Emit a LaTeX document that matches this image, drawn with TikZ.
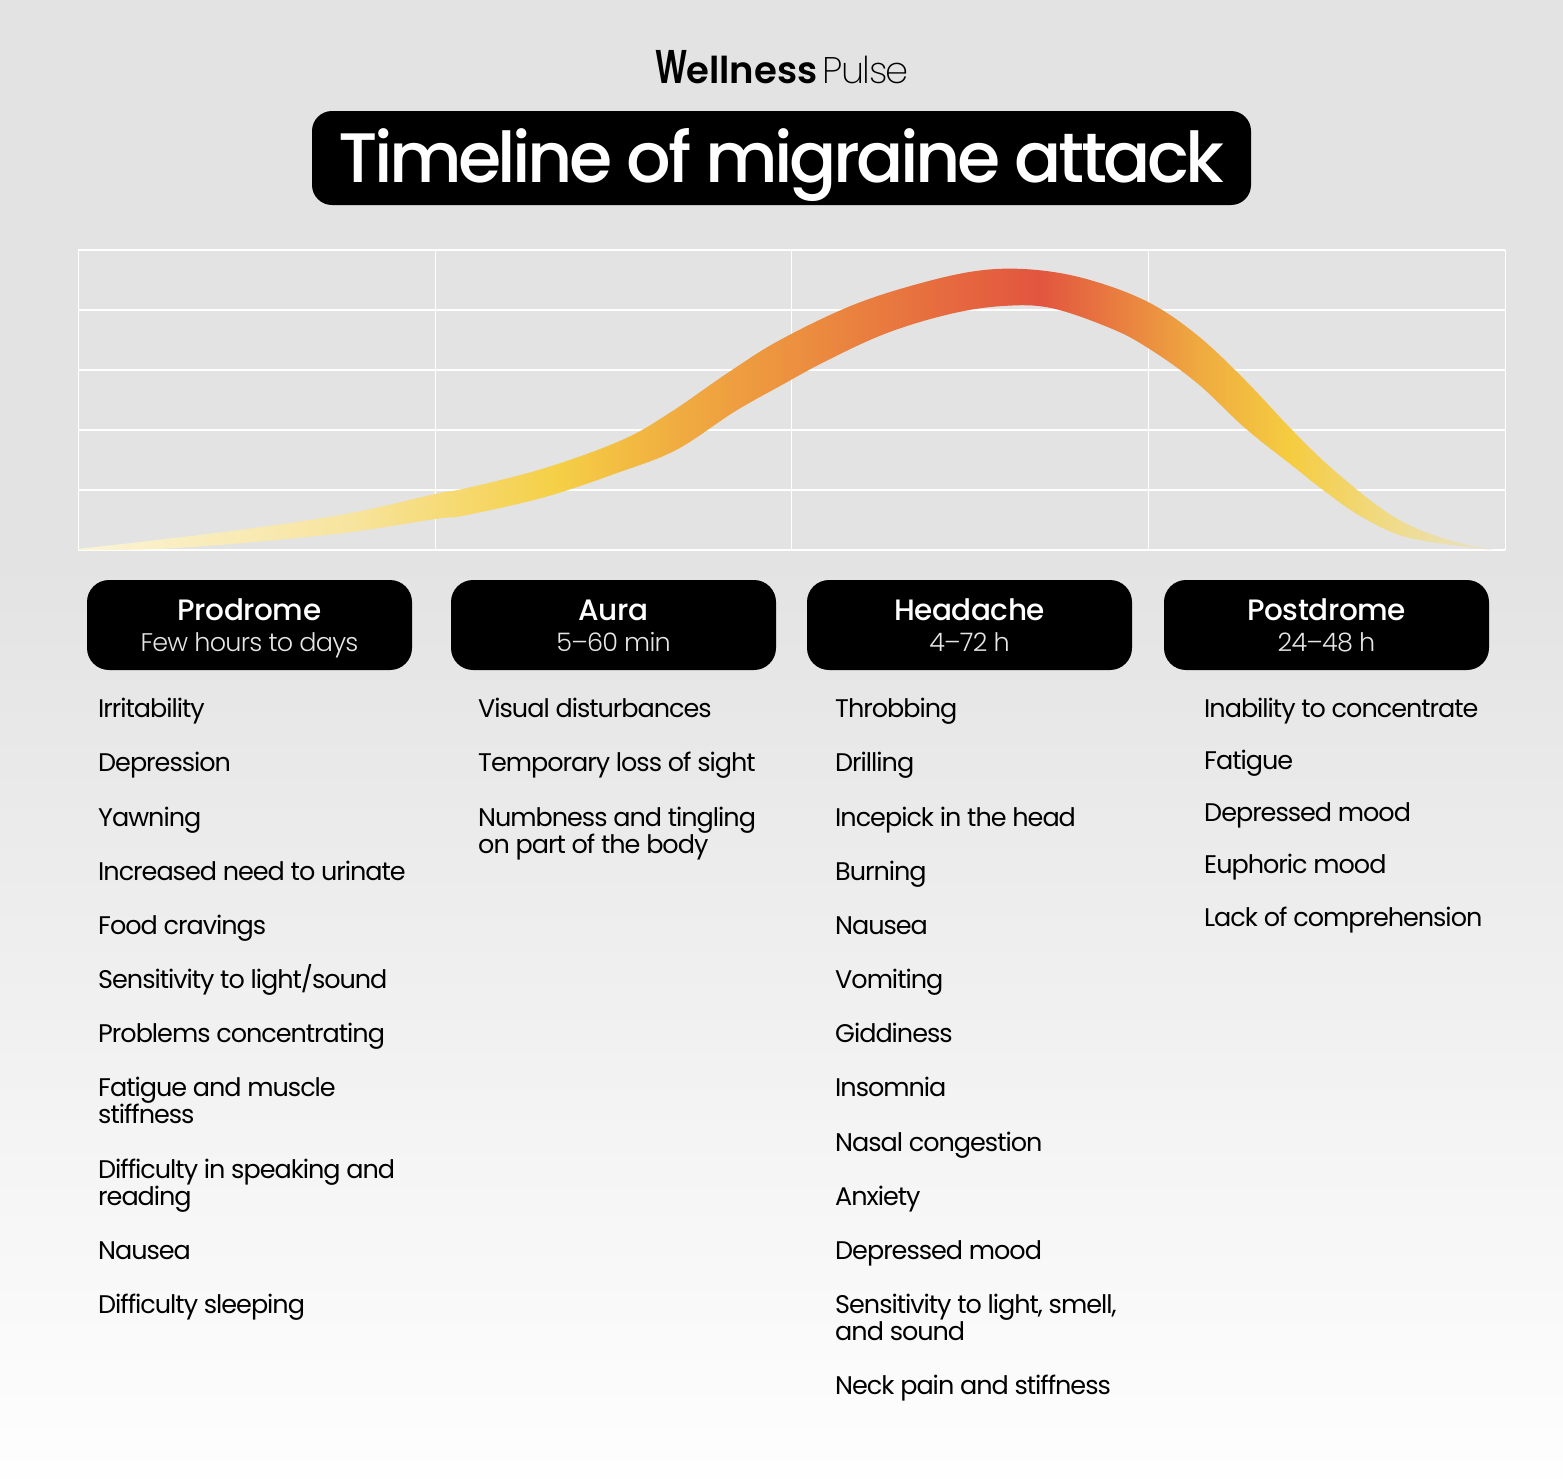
\documentclass[tikz,border=0pt]{standalone}
\usepackage{fontspec}
\usepackage{graphicx}
\setmainfont[LetterSpace=-4]{Poppins}
\newfontfamily\medf[LetterSpace=-1.5]{Poppins Medium}
\newfontfamily\titlef[LetterSpace=-5.2]{Poppins Medium}
\newfontfamily\lightf[LetterSpace=-3]{Poppins Light}
\newfontfamily\logolight[LetterSpace=-4]{Poppins ExtraLight}
\newfontfamily\semif{Poppins SemiBold}
\definecolor{bgtop}{HTML}{E3E3E3}
\definecolor{bgbot}{HTML}{FEFEFE}
\definecolor{rib0}{HTML}{FBF4D6}\definecolor{rib1}{HTML}{F7E49E}\definecolor{rib2}{HTML}{F5CF45}
\definecolor{rib3}{HTML}{F0AB40}\definecolor{rib4}{HTML}{EB8A3F}\definecolor{rib5}{HTML}{E6693F}
\definecolor{rib6}{HTML}{E2553F}\definecolor{rib7}{HTML}{E87A40}\definecolor{rib8}{HTML}{EFAA40}
\definecolor{rib9}{HTML}{F5CC40}\definecolor{rib10}{HTML}{EFDC8F}\definecolor{rib11}{HTML}{E8E2CC}
\pgfdeclarehorizontalshading{ribbonshade}{100bp}{
 color(0bp)=(rib0); color(25bp)=(rib0); color(34.6bp)=(rib1); color(42bp)=(rib2); color(46.3bp)=(rib3);
 color(51.2bp)=(rib4); color(55.8bp)=(rib5); color(59bp)=(rib6); color(61.5bp)=(rib7); color(64.6bp)=(rib8);
 color(67.8bp)=(rib9); color(71.7bp)=(rib10); color(75bp)=(rib11); color(100bp)=(rib11)}
\tikzset{
 pill/.style={fill=black,text=white,rounded corners=22pt,minimum width=325pt,minimum height=90pt,inner sep=0pt,align=center,anchor=center,font=\fontsize{29.5}{31}\selectfont},
 item/.style={anchor=base west,inner sep=0pt,text=black,font=\fontsize{25.5}{27}\selectfont,align=left},
 gridh/.style={draw=white,line width=1.1pt},
 gridv/.style={draw=white,line width=0.9pt}
}
\newcommand{\phase}[2]{\rule{0pt}{28pt}{\medf #1}\\{\fontsize{25.5}{31}\selectfont\lightf\color[HTML]{E6E6E6}\rule[-7pt]{0pt}{7pt}#2}}
\begin{document}
\begin{tikzpicture}[x=1pt,y=-1pt]
\useasboundingbox (0,0) rectangle (1563,1478);
\fill[bgtop] (0,0) rectangle (1563,560);
\shade[top color=bgtop,bottom color=bgbot] (0,559) rectangle (1563,1478);
% logo
\node[inner sep=0pt,anchor=base west] (logo) at (655,83) {\fontsize{37}{40}\selectfont\semif\scalebox{0.85}[1.28]{W}\hspace{-1pt}ellness\hspace{5pt}\logolight Pulse};
% title
\node[fill=black,text=white,rounded corners=20pt,minimum width=939pt,inner sep=0pt,text height=71pt,text depth=23pt] (title) at (781.5,158) {\fontsize{70}{76}\selectfont\titlef Timeline of migraine attack};
% grid
\foreach \y in {250,310,370,430,490,550} \draw[gridh] (78,\y) -- (1505,\y);
\foreach \x in {78,435,791,1148,1505} \draw[gridv] (\x,250) -- (\x,550);
% ribbon
\shade[shading=ribbonshade]
 plot[smooth,tension=0.6] coordinates {(78,549)(157,540)(254,528)(351,513)(435,494)(467,488)(545,468)(622,440)(671,412)(729,372)(780,340)(853,305)(925,282)(984,270)(1037,270)(1090,280)(1148,302)(1197,335)(1245,380)(1294,432)(1337,473)(1391,515)(1439,537)(1493,550)}
 -- plot[smooth,tension=0.6] coordinates {(1493,550)(1410,538)(1362,517)(1323,490)(1294,467)(1245,428)(1197,383)(1148,348)(1110,328)(1051,308)(1003,306)(950,314)(887,333)(828,360)(780,386)(734,412)(676,450)(617,473)(545,497)(467,515)(435,519)(351,532)(254,542)(157,549)(78,550)} -- cycle;
% headers
\node[pill] (p1) at (249.5,625) {\phase{Prodrome}{Few hours to days}};
\node[pill] (p2) at (613.5,625) {\phase{Aura}{5–60 min}};
\node[pill] (p3) at (969.5,625) {\phase{Headache}{4–72 h}};
\node[pill] (p4) at (1326.5,625) {\phase{Postdrome}{24–48 h}};
% Prodrome
\node[item] (a1) at (98,717) {Irritability};
\node[item] (a2) at (98,771) {Depression};
\node[item] (a3) at (98,826) {Yawning};
\node[item] (a4) at (98,880) {Increased need to urinate};
\node[item] (a5) at (98,934) {Food cravings};
\node[item] (a6) at (98,988) {Sensitivity to light/sound};
\node[item] (a7) at (98,1042) {Problems concentrating};
\node[item] (a8) at (98,1123) {Fatigue and muscle\\stiffness};
\node[item] (a9) at (98,1205) {Difficulty in speaking and\\reading};
\node[item] (a10) at (98,1259) {Nausea};
\node[item] (a11) at (98,1313) {Difficulty sleeping};
% Aura
\node[item] (b1) at (478,717) {Visual disturbances};
\node[item] (b2) at (478,771) {Temporary loss of sight};
\node[item] (b3) at (478,853) {Numbness and tingling\\on part of the body};
% Headache
\node[item] (c1) at (835,717) {Throbbing};
\node[item] (c2) at (835,771) {Drilling};
\node[item] (c3) at (835,826) {Incepick in the head};
\node[item] (c4) at (835,880) {Burning};
\node[item] (c5) at (835,934) {Nausea};
\node[item] (c6) at (835,988) {Vomiting};
\node[item] (c7) at (835,1042) {Giddiness};
\node[item] (c8) at (835,1096) {Insomnia};
\node[item] (c9) at (835,1151) {Nasal congestion};
\node[item] (c10) at (835,1205) {Anxiety};
\node[item] (c11) at (835,1259) {Depressed mood};
\node[item] (c12) at (835,1340) {Sensitivity to light, smell,\\and sound};
\node[item] (c13) at (835,1394) {Neck pain and stiffness};
% Postdrome
\node[item] (d1) at (1204,717) {Inability to concentrate};
\node[item] (d2) at (1204,769) {Fatigue};
\node[item] (d3) at (1204,821) {Depressed mood};
\node[item] (d4) at (1204,873) {Euphoric mood};
\node[item] (d5) at (1204,926) {Lack of comprehension};
\end{tikzpicture}
\end{document}
